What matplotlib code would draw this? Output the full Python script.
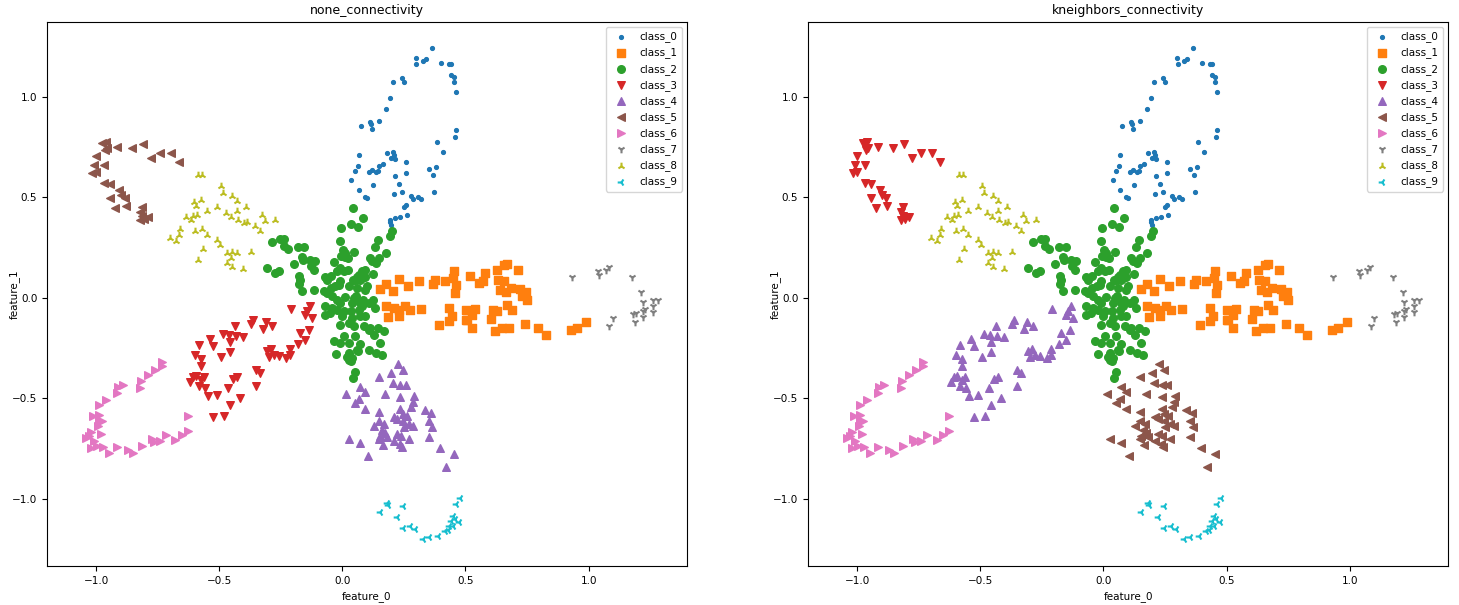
import numpy as np
import matplotlib
matplotlib.use('Agg')
import matplotlib.pyplot as plt

plt.rcParams.update({'font.size': 7.5})

# point groups (feature_0, feature_1)
arm_up = np.array([
    (0.362, 1.244), (0.297, 1.194), (0.301, 1.163), (0.327, 1.178), (0.341, 1.187), (0.402, 1.169),
    (0.432, 1.164), (0.442, 1.164), (0.443, 1.108), (0.453, 1.100), (0.453, 1.073), (0.461, 1.023),
    (0.241, 1.095), (0.249, 1.073), (0.205, 1.073), (0.192, 0.994), (0.176, 0.939), (0.148, 0.879),
    (0.114, 0.876), (0.118, 0.864), (0.119, 0.839), (0.077, 0.854), (0.461, 0.834), (0.457, 0.800),
    (0.383, 0.776), (0.408, 0.726), (0.183, 0.721), (0.205, 0.726), (0.209, 0.710), (0.198, 0.697),
    (0.214, 0.692), (0.069, 0.710), (0.065, 0.655), (0.050, 0.630), (0.037, 0.585), (0.110, 0.624),
    (0.119, 0.634), (0.144, 0.632), (0.150, 0.655), (0.164, 0.665), (0.138, 0.624), (0.257, 0.675),
    (0.257, 0.620), (0.213, 0.605), (0.229, 0.566), (0.351, 0.642), (0.379, 0.650), (0.367, 0.610),
    (0.123, 0.561), (0.069, 0.536), (0.093, 0.502), (0.099, 0.498), (0.209, 0.516), (0.241, 0.526),
    (0.278, 0.507), (0.306, 0.501), (0.321, 0.491), (0.285, 0.491), (0.374, 0.526), (0.252, 0.451),
    (0.260, 0.459), (0.192, 0.388), (0.195, 0.377), (0.213, 0.396), (0.233, 0.401), (0.263, 0.413),
    (0.198, 0.363)])

arm_right = np.array([
    (0.152, 0.045), (0.179, 0.068), (0.205, 0.035), (0.229, 0.093), (0.266, 0.056), (0.310, 0.085),
    (0.369, 0.068), (0.375, 0.090), (0.416, 0.085), (0.455, 0.134), (0.448, 0.098), (0.463, 0.061),
    (0.459, 0.023), (0.518, 0.109), (0.179, -0.040), (0.209, -0.051), (0.229, -0.063), (0.256, -0.040),
    (0.274, -0.060), (0.186, -0.098), (0.229, -0.093), (0.321, -0.055), (0.435, -0.051), (0.446, -0.090),
    (0.435, -0.118), (0.394, -0.134), (0.504, -0.060), (0.507, -0.109), (0.581, 0.123), (0.554, 0.073),
    (0.572, 0.081), (0.629, 0.136), (0.656, 0.164), (0.669, 0.169), (0.713, 0.139), (0.631, 0.090),
    (0.656, 0.081), (0.642, 0.040), (0.663, 0.026), (0.683, 0.048), (0.721, 0.043), (0.744, 0.026),
    (0.730, 0.007), (0.748, -0.010), (0.537, -0.056), (0.527, -0.085), (0.504, -0.113), (0.527, -0.151),
    (0.613, -0.063), (0.629, -0.068), (0.604, -0.106), (0.669, -0.035), (0.690, -0.063), (0.619, -0.167),
    (0.649, -0.151), (0.676, -0.151), (0.741, -0.129), (0.794, -0.151), (0.829, -0.184), (0.930, -0.163),
    (0.951, -0.151), (0.988, -0.123)])

core = np.array([
    (0.043, 0.446), (0.082, 0.396), (0.033, 0.367), (0.062, 0.352), (-0.007, 0.347), (-0.011, 0.280),
    (0.003, 0.235), (0.009, 0.225), (0.046, 0.227), (-0.004, 0.210), (0.012, 0.205), (0.022, 0.198),
    (-0.287, 0.275), (-0.255, 0.292), (-0.239, 0.292), (-0.236, 0.255), (-0.222, 0.242), (-0.182, 0.252),
    (-0.154, 0.252), (-0.165, 0.205), (-0.160, 0.189), (-0.198, 0.167), (-0.130, 0.189), (-0.110, 0.181),
    (-0.127, 0.159), (-0.117, 0.136), (-0.033, 0.176), (-0.011, 0.148), (-0.022, 0.131), (0.005, 0.131),
    (0.022, 0.139), (-0.306, 0.148), (-0.272, 0.123), (-0.259, 0.134), (-0.175, 0.106), (-0.171, 0.090),
    (-0.178, 0.070), (-0.164, 0.035), (-0.114, 0.040), (-0.072, 0.103), (-0.062, 0.086), (-0.046, 0.109),
    (-0.008, 0.081), (0.042, 0.090), (0.060, 0.103), (0.073, 0.086), (0.093, 0.103), (-0.076, 0.031),
    (-0.062, 0.023), (-0.045, 0.048), (-0.028, 0.056), (-0.012, 0.065), (0.026, 0.056), (0.060, 0.048),
    (0.098, 0.056), (-0.042, 0.010), (-0.022, -0.010), (-0.008, -0.026), (0.012, 0.006), (0.046, -0.002),
    (0.073, -0.026), (0.107, -0.026), (-0.069, -0.043), (-0.042, -0.051), (-0.022, -0.060), (0.005, -0.068),
    (0.033, -0.068), (-0.069, -0.085), (-0.049, -0.076), (-0.001, -0.093), (0.039, -0.101), (0.073, -0.093),
    (-0.011, -0.134), (0.026, -0.126), (0.046, -0.143), (0.087, -0.143), (0.107, -0.159), (0.053, -0.193),
    (0.005, -0.193), (-0.008, -0.225), (-0.033, -0.217), (0.026, -0.225), (0.060, -0.259), (0.026, -0.275),
    (-0.024, -0.280), (0.033, -0.317), (0.019, -0.297), (0.073, -0.232), (0.202, 0.330), (0.195, 0.305),
    (0.144, 0.289), (0.134, 0.252), (0.179, 0.225), (0.111, 0.198), (0.121, 0.181), (0.138, 0.172),
    (0.148, 0.198), (0.080, 0.131), (0.093, 0.136), (0.066, 0.114), (0.125, 0.118), (0.053, 0.090),
    (0.080, 0.098), (0.093, 0.040), (0.057, 0.007), (0.084, -0.010), (0.125, -0.010), (0.039, -0.026),
    (0.080, -0.043), (0.066, -0.060), (0.093, -0.093), (0.134, -0.051), (0.111, -0.151), (0.144, -0.151),
    (0.127, -0.184), (0.168, -0.167), (0.152, -0.225), (0.135, -0.275), (0.161, -0.284), (0.107, -0.259),
    (0.039, -0.300), (0.028, -0.308), (0.064, -0.264), (0.050, -0.370), (0.043, -0.400)])

inner_lower_left = np.array([
    (-0.363, -0.113), (-0.373, -0.129), (-0.312, -0.123), (-0.321, -0.156), (-0.287, -0.143), (-0.438, -0.143),
    (-0.402, -0.196), (-0.434, -0.192), (-0.461, -0.184), (-0.485, -0.181), (-0.458, -0.222), (-0.539, -0.204),
    (-0.524, -0.239), (-0.583, -0.234), (-0.458, -0.272), (-0.495, -0.297), (-0.600, -0.284), (-0.573, -0.303),
    (-0.576, -0.338), (-0.305, -0.267), (-0.289, -0.255), (-0.278, -0.284), (-0.298, -0.295), (-0.352, -0.362),
    (-0.336, -0.375), (-0.606, -0.395), (-0.593, -0.388), (-0.576, -0.408), (-0.562, -0.395), (-0.621, -0.421),
    (-0.583, -0.438), (-0.560, -0.449), (-0.546, -0.491), (-0.511, -0.483), (-0.444, -0.403), (-0.427, -0.396),
    (-0.463, -0.449), (-0.350, -0.438), (-0.417, -0.499), (-0.458, -0.536), (-0.526, -0.594), (-0.479, -0.591),
    (-0.209, -0.055), (-0.133, -0.043), (-0.153, -0.085), (-0.123, -0.101), (-0.144, -0.068), (-0.137, -0.159),
    (-0.171, -0.176), (-0.150, -0.209), (-0.182, -0.229), (-0.211, -0.255), (-0.259, -0.292), (-0.228, -0.300),
    (-0.214, -0.284)])

arm_down = np.array([
    (0.226, -0.328), (0.245, -0.362), (0.199, -0.375), (0.148, -0.395), (0.206, -0.424), (0.236, -0.433),
    (0.260, -0.433), (0.070, -0.444), (0.091, -0.469), (0.016, -0.478), (0.175, -0.478), (0.066, -0.504),
    (0.050, -0.524), (0.236, -0.494), (0.290, -0.491), (0.287, -0.519), (0.280, -0.544), (0.091, -0.554),
    (0.148, -0.571), (0.236, -0.554), (0.245, -0.577), (0.337, -0.561), (0.358, -0.574), (0.211, -0.595),
    (0.222, -0.603), (0.263, -0.591), (0.247, -0.615), (0.270, -0.627), (0.287, -0.637), (0.249, -0.643),
    (0.351, -0.615), (0.362, -0.643), (0.148, -0.615), (0.168, -0.627), (0.130, -0.637), (0.161, -0.657),
    (0.175, -0.673), (0.154, -0.687), (0.181, -0.693), (0.148, -0.703), (0.165, -0.731), (0.222, -0.677),
    (0.240, -0.687), (0.211, -0.715), (0.233, -0.726), (0.243, -0.743), (0.270, -0.703), (0.351, -0.693),
    (0.026, -0.703), (0.070, -0.723), (0.103, -0.786), (0.396, -0.748), (0.455, -0.778), (0.419, -0.842)])

outer_upper_left = np.array([
    (-0.976, 0.770), (-0.962, 0.773), (-0.955, 0.745), (-0.966, 0.736), (-0.917, 0.750), (-0.856, 0.745),
    (-0.809, 0.766), (-0.776, 0.695), (-0.739, 0.720), (-0.698, 0.720), (-0.664, 0.675), (-1.000, 0.703),
    (-1.009, 0.662), (-0.969, 0.658), (-1.016, 0.620), (-0.999, 0.624), (-0.969, 0.571), (-0.944, 0.567),
    (-0.908, 0.537), (-0.901, 0.512), (-0.885, 0.496), (-0.944, 0.496), (-0.924, 0.446), (-0.878, 0.454),
    (-0.816, 0.451), (-0.822, 0.429), (-0.790, 0.401), (-0.806, 0.392), (-0.822, 0.385), (-0.813, 0.408)])

outer_lower_left = np.array([
    (-0.732, -0.322), (-0.732, -0.342), (-0.763, -0.358), (-0.789, -0.386), (-0.820, -0.416), (-0.822, -0.449),
    (-0.890, -0.433), (-0.912, -0.444), (-0.915, -0.474), (-0.962, -0.511), (-0.987, -0.532), (-1.013, -0.591),
    (-0.987, -0.582), (-0.989, -0.615), (-0.976, -0.615), (-0.993, -0.640), (-0.980, -0.677), (-1.023, -0.670),
    (-1.043, -0.698), (-1.030, -0.690), (-1.009, -0.715), (-1.023, -0.746), (-0.996, -0.738), (-0.972, -0.742),
    (-0.948, -0.771), (-0.915, -0.742), (-0.872, -0.756), (-0.850, -0.771), (-0.813, -0.738), (-0.772, -0.703),
    (-0.766, -0.720), (-0.739, -0.711), (-0.718, -0.682), (-0.678, -0.706), (-0.650, -0.682), (-0.627, -0.665),
    (-0.626, -0.587)])

far_right = np.array([
    (0.934, 0.103), (1.038, 0.131), (1.042, 0.111), (1.072, 0.136), (1.083, 0.153), (1.175, 0.103),
    (1.215, 0.028), (1.221, -0.021), (1.261, -0.013), (1.282, -0.013), (1.263, -0.043), (1.228, -0.055),
    (1.222, -0.068), (1.261, -0.073), (1.180, -0.080), (1.194, -0.076), (1.221, -0.096), (1.187, -0.123),
    (1.099, -0.101), (1.085, -0.143)])

inner_upper_left = np.array([
    (-0.587, 0.612), (-0.569, 0.609), (-0.495, 0.557), (-0.484, 0.521), (-0.450, 0.504), (-0.427, 0.479),
    (-0.393, 0.449), (-0.603, 0.474), (-0.593, 0.454), (-0.573, 0.488), (-0.552, 0.434), (-0.508, 0.449),
    (-0.637, 0.401), (-0.614, 0.388), (-0.607, 0.408), (-0.589, 0.411), (-0.472, 0.421), (-0.454, 0.401),
    (-0.430, 0.434), (-0.424, 0.388), (-0.400, 0.372), (-0.386, 0.375), (-0.356, 0.355), (-0.336, 0.330),
    (-0.325, 0.413), (-0.316, 0.380), (-0.275, 0.388), (-0.661, 0.342), (-0.664, 0.313), (-0.702, 0.297),
    (-0.675, 0.280), (-0.600, 0.330), (-0.569, 0.342), (-0.552, 0.313), (-0.508, 0.289), (-0.499, 0.264),
    (-0.565, 0.242), (-0.585, 0.189), (-0.467, 0.222), (-0.447, 0.229), (-0.427, 0.225), (-0.451, 0.197),
    (-0.373, 0.230), (-0.470, 0.172), (-0.450, 0.153), (-0.402, 0.143)])

bottom = np.array([
    (0.180, -1.022), (0.187, -1.033), (0.245, -1.035), (0.154, -1.066), (0.221, -1.091), (0.247, -1.146),
    (0.274, -1.138), (0.293, -1.151), (0.329, -1.200), (0.352, -1.191), (0.390, -1.184), (0.415, -1.163),
    (0.428, -1.158), (0.434, -1.138), (0.442, -1.113), (0.449, -1.085), (0.458, -1.101), (0.472, -1.118),
    (0.461, -1.025), (0.478, -0.997), (0.451, -1.138)])

groups = [arm_up, arm_right, core, inner_lower_left, arm_down, outer_upper_left,
          outer_lower_left, far_right, inner_upper_left, bottom]

# class of each group in the two clusterings
labels_none = [0, 1, 2, 3, 4, 5, 6, 7, 8, 9]
labels_knn = [0, 1, 2, 4, 5, 3, 6, 7, 8, 9]

titles = ['none_connectivity', 'kneighbors_connectivity']
markers = ['.', 's', 'o', 'v', '^', '<', '>', '1', '2', '3']
colors = plt.cm.tab10.colors


def plot_panel(ax, labels, title):
    for k in range(10):
        pts = np.vstack([g for g, lab in zip(groups, labels) if lab == k])
        ax.scatter(pts[:, 0], pts[:, 1], s=30, marker=markers[k], color=colors[k],
                   label=f'class_{k}')
    ax.set_xlim(-1.2, 1.4)
    ax.set_ylim(-1.335, 1.372)
    ax.set_xticks([-1.0, -0.5, 0.0, 0.5, 1.0])
    ax.set_yticks([-1.0, -0.5, 0.0, 0.5, 1.0])
    ax.set_xlabel('feature_0')
    ax.set_ylabel('feature_1')
    ax.yaxis.set_label_coords(-0.043, 0.5)
    ax.set_title(title)
    ax.legend(loc='upper right')


fig, axes = plt.subplots(1, 2, figsize=(14.59, 6.05), dpi=100)
fig.subplots_adjust(left=0.0322, right=0.9925, bottom=0.0645, top=0.9636, wspace=0.189)
plot_panel(axes[0], labels_none, titles[0])
plot_panel(axes[1], labels_knn, titles[1])
fig.savefig('out.png', dpi=100)
